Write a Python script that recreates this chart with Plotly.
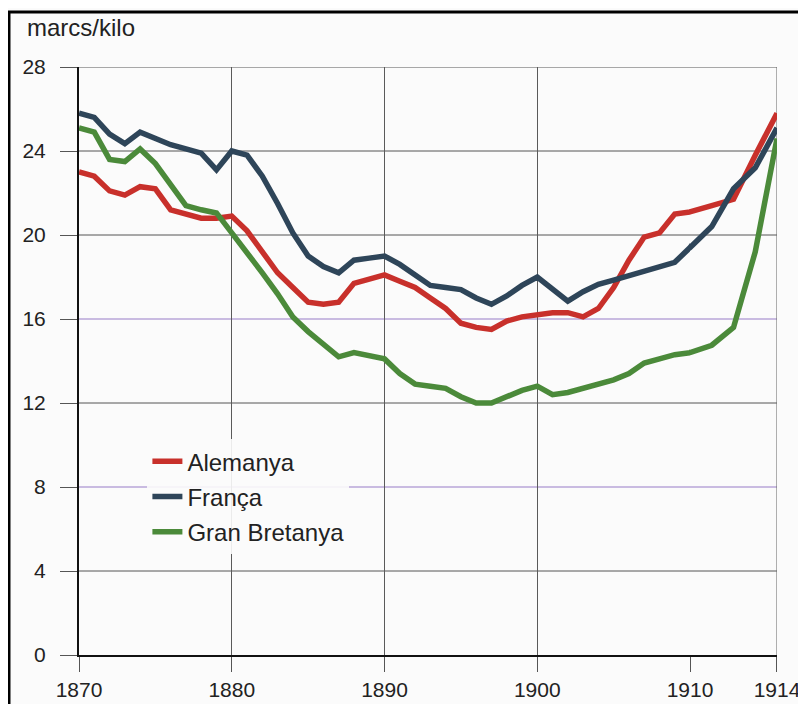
import plotly.graph_objects as go

years = list(range(1870, 1915))
alemanya = [23.0, 22.8, 22.1, 21.9, 22.3, 22.2, 21.2, 21.0, 20.8, 20.8,
            20.9, 20.2, 19.2, 18.2, 17.5, 16.8, 16.7, 16.8, 17.7, 17.9,
            18.1, 17.8, 17.5, 17.0, 16.5, 15.8, 15.6, 15.5, 15.9, 16.1,
            16.2, 16.3, 16.3, 16.1, 16.5, 17.5, 18.8, 19.9, 20.1, 21.0,
            21.1, 21.4, 21.7, 23.8, 25.8]
franca = [25.8, 25.6, 24.8, 24.35, 24.9, 24.6, 24.3, 24.1, 23.9, 23.1,
          24.0, 23.8, 22.8, 21.5, 20.1, 19.0, 18.5, 18.2, 18.8, 18.9,
          19.0, 18.6, 18.1, 17.6, 17.5, 17.4, 17.0, 16.7, 17.1, 17.6,
          18.0, 17.4, 16.85, 17.3, 17.65, 17.85, 18.05, 18.3, 18.5, 18.7,
          19.4, 20.4, 22.2, 23.2, 25.1]
gran_bretanya = [25.1, 24.9, 23.6, 23.5, 24.1, 23.4, 22.4, 21.4, 21.2, 21.05,
                 20.1, 19.2, 18.2, 17.2, 16.1, 15.4, 14.8, 14.2, 14.4, 14.25,
                 14.1, 13.4, 12.9, 12.8, 12.7, 12.3, 12.0, 12.0, 12.3, 12.6,
                 12.8, 12.4, 12.5, 12.7, 12.9, 13.1, 13.4, 13.9, 14.1, 14.3,
                 14.4, 14.75, 15.6, 19.2, 24.6]

series = [("Alemanya", alemanya, "#c8302b"),
          ("França", franca, "#2e4559"),
          ("Gran Bretanya", gran_bretanya, "#4b8a3a")]

y_ticks = [0, 4, 8, 12, 16, 20, 24, 28]
lavender_rows = [8, 16]
x_ticks_main = [1870, 1880, 1890, 1900, 1910]
x_ticks_end = [1914]
split_year = 1910

FONT = "Liberation Sans, Arial, sans-serif"

fig = go.Figure()
for name, vals, col in series:
    # each part carries one extra point past the split so the clipped joint stays seamless
    xa = [y for y in years if y <= split_year + 1]
    ya = [v for y, v in zip(years, vals) if y <= split_year + 1]
    xb = [y for y in years if y >= split_year - 1]
    yb = [v for y, v in zip(years, vals) if y >= split_year - 1]
    fig.add_trace(go.Scatter(x=xa, y=ya, mode="lines", name=name, legendgroup=name,
                             line=dict(color=col, width=5.5), xaxis="x", yaxis="y"))
    fig.add_trace(go.Scatter(x=xb, y=yb, mode="lines", name=name, legendgroup=name,
                             showlegend=False,
                             line=dict(color=col, width=5.5), xaxis="x2", yaxis="y"))

split = 0.8754
fig.update_layout(
    width=798, height=696,
    margin=dict(l=71, r=29, t=59, b=49, autoexpand=False),
    paper_bgcolor="#fbfbfb", plot_bgcolor="#fbfbfb",
    font=dict(family=FONT, size=21, color="#222"),
    showlegend=True,
    legend=dict(x=0.098, y=0.367, xanchor="left", yanchor="top",
                bgcolor="rgba(251,251,251,0.9)", font=dict(size=24, color="#222"),
                tracegroupgap=1),
    xaxis=dict(domain=[0, split], range=[1870, split_year], tickvals=x_ticks_main,
               ticks="outside", ticklen=15, tickcolor="#555", tickwidth=1,
               showgrid=True, gridcolor="#5a5a5a", gridwidth=1, automargin=False,
               showline=True, linecolor="#111", linewidth=2, zeroline=False,
               anchor="y", tickfont=dict(size=21)),
    xaxis2=dict(domain=[split, 1], range=[split_year, 1914], tickvals=x_ticks_end,
                ticks="outside", ticklen=15, tickcolor="#555", tickwidth=1,
                showgrid=False, automargin=False,
                showline=True, linecolor="#111", linewidth=2, zeroline=False,
                anchor="y", tickfont=dict(size=21)),
    yaxis=dict(range=[0, 28], tickvals=y_ticks, ticks="outside", ticklen=17,
               tickcolor="#555", tickwidth=1, ticklabelstandoff=10, automargin=False,
               showgrid=False,
               showline=True, linecolor="#111", linewidth=2, zeroline=False,
               anchor="x", tickfont=dict(size=21)),
    annotations=[dict(text="marcs/kilo", xref="paper", yref="paper",
                      x=-0.078, y=1.068, xanchor="left", yanchor="middle",
                      showarrow=False, font=dict(size=24, color="#222"))],
)

# horizontal grid lines (two of them lavender-tinted, as in the scan)
for yv in y_ticks[1:]:
    col = "#b9a6d8" if yv in lavender_rows else "#555555"
    fig.add_shape(type="line", xref="paper", yref="y", x0=0, x1=1, y0=yv, y1=yv,
                  line=dict(color=col, width=1.3 if yv in lavender_rows else 1),
                  layer="below")
# right boundary at 1914
fig.add_shape(type="line", xref="x2", yref="y", x0=1914, x1=1914, y0=0, y1=28,
              line=dict(color="#666", width=1), layer="below")
# outer frame
fig.add_shape(type="rect", xref="paper", yref="paper",
              x0=-0.1003, x1=1.0372, y0=-0.0935, y1=1.0935,
              line=dict(color="#000", width=3), fillcolor="rgba(0,0,0,0)")

fig.write_html("out.html")
